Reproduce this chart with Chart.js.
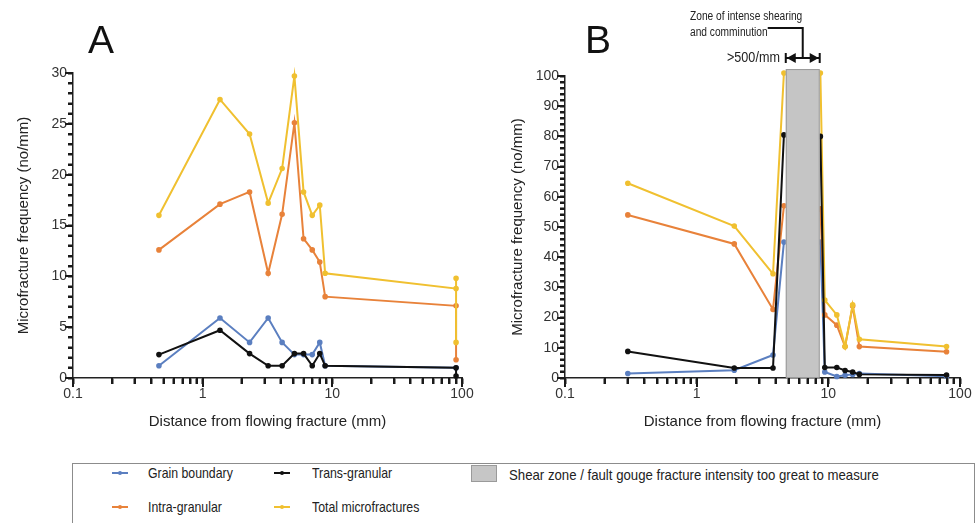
<!DOCTYPE html>
<html>
<head>
<meta charset="utf-8">
<script src="https://cdn.jsdelivr.net/npm/chart.js@4.4.0/dist/chart.umd.min.js"></script>
<style>
body{margin:0;background:#fff;font-family:"Liberation Sans",Arial,sans-serif;}
#wrap{position:relative;width:977px;height:523px;overflow:hidden;background:#fff;}
canvas{position:absolute;top:0;}
#chartA{left:0}
#chartB{left:490px}
.panel{position:absolute;font-size:39px;line-height:39px;color:#111;}
.note{position:absolute;font-size:12px;line-height:14px;color:#222;white-space:nowrap;transform:scaleX(0.85);transform-origin:left center;}
#legend{position:absolute;left:72px;top:463px;width:903px;height:80px;border:1.5px solid #8c8c8c;box-sizing:border-box;}
.item{position:absolute;font-size:15px;line-height:18px;color:#222;white-space:nowrap;transform:scaleX(0.82);transform-origin:left center;}
.mark{position:absolute;height:2px;width:16px;}
.mark span{position:absolute;left:6px;top:-1px;width:4px;height:4px;border-radius:50%;}
#gray{position:absolute;left:471px;top:465px;width:26px;height:17px;background:#c6c6c6;border:1px solid #9a9a9a;box-sizing:border-box;}
</style>
</head>
<body>
<div id="wrap">
<canvas id="chartA" width="490" height="445"></canvas>
<canvas id="chartB" width="487" height="445"></canvas>
<div class="panel" style="left:88px;top:20px">A</div>
<div class="panel" style="left:585px;top:20px">B</div>
<div class="note" style="left:690px;top:9px">Zone of intense shearing</div>
<div class="note" style="left:690px;top:25px">and comminution</div>
<div class="note" style="left:727px;top:50px;font-size:14px;transform:scaleX(0.9)">&gt;500/mm</div>
<div id="legend"></div>
<div class="mark" style="left:112px;top:472px;background:#5b7fc0"><span style="background:#5b7fc0"></span></div>
<div class="item" style="left:148px;top:464px">Grain boundary</div>
<div class="mark" style="left:112px;top:506px;background:#e8823a"><span style="background:#e8823a"></span></div>
<div class="item" style="left:148px;top:498px">Intra-granular</div>
<div class="mark" style="left:274px;top:472px;background:#111"><span style="background:#111"></span></div>
<div class="item" style="left:312px;top:464px">Trans-granular</div>
<div class="mark" style="left:274px;top:506px;background:#f0c030"><span style="background:#f0c030"></span></div>
<div class="item" style="left:312px;top:498px">Total microfractures</div>
<div id="gray"></div>
<div class="item" style="left:509px;top:466px;transform:scaleX(0.88)">Shear zone / fault gouge fracture intensity too great to measure</div>
</div>
<script>
var xTicks = [0.1,0.2,0.3,0.4,0.5,0.6,0.7,0.8,0.9,1,2,3,4,5,6,7,8,9,10,20,30,40,50,60,70,80,90,100];

// panel A
var distA = [0.46, 1.36, 2.3, 3.2, 4.1, 5.1, 6.0, 7.0, 8.0, 8.8, 90];
var grainA = [1.2, 5.9, 3.5, 5.9, 3.5, 2.3, 2.3, 2.3, 3.5, 1.2, 1.0];
var intraA = [12.6, 17.1, 18.3, 10.3, 16.1, 25.1, 13.7, 12.6, 11.4, 8.0, 7.1];
var transA = [2.3, 4.7, 2.4, 1.2, 1.2, 2.4, 2.4, 1.2, 2.4, 1.2, 1.0];
var totalA = [16.0, 27.4, 24.0, 17.2, 20.6, 29.7, 18.3, 16.0, 17.0, 10.3, 8.8];
// extra readings at the far end of A
var intraAEnd = [1.8];
var transAEnd = [0.2];
var totalAEnd = [9.8, 3.5];

// panel B
var distB = [0.3, 1.93, 3.8, 4.6, 8.7, 9.4, 11.6, 13.4, 15.3, 17.2, 79];
var grainB = [1.5, 2.6, 7.6, 45, 45, 2.0, 0.5, 0.9, 1.2, 1.5, 0.6];
var intraB = [54, 44.4, 22.7, 57, 56, 20.9, 17.5, 10.4, 23.8, 10.4, 8.7];
var transB = [8.8, 3.3, 3.3, 80.5, 80, 3.5, 3.5, 2.5, 2.0, 1.2, 1.0];
var totalB = [64.5, 50.3, 34.5, 101, 101, 25.8, 20.9, 10.4, 24.2, 12.8, 10.4];
var shearZone = [4.75, 8.6];

var blue = '#5b7fc0', orange = '#e8823a', black = '#111', yellow = '#f0c030';
Chart.defaults.font.family = '"Liberation Sans", Arial, sans-serif';

function pts(xs, ys, tail){
    let d = xs.map(function(x, i){ return {x: x, y: ys[i]}; });
    if (tail) tail.forEach(function(y){ d.push({x: xs[xs.length - 1], y: y}); });
    return d;
}

function line(label, data, color, order){
    return {label: label, data: data, borderColor: color, backgroundColor: color,
        borderWidth: 2, pointRadius: 1.8, pointHoverRadius: 0, order: order, clip: false};
}

function isDecade(v){
    let l = Math.log10(v);
    return Math.abs(l - Math.round(l)) < 1e-6;
}

// tick marks: short for minor values, long for labelled ones
var tickPlugin = {
    id: 'tickmarks',
    afterDraw: function(chart){
        let ctx = chart.ctx, sx = chart.scales.x, sy = chart.scales.y;
        let yMajor = sy.max > 50 ? 10 : 5;
        ctx.save();
        ctx.strokeStyle = '#1a1a1a';
        ctx.lineWidth = 2;
        ctx.beginPath();
        xTicks.forEach(function(v){
            let p = Math.round(sx.getPixelForValue(v));
            ctx.moveTo(p, sx.top);
            ctx.lineTo(p, sx.top + (isDecade(v) ? 9 : 6));
        });
        for (let v = 0; v <= sy.max; v += sy.options.ticks.stepSize) {
            let p = Math.round(sy.getPixelForValue(v));
            ctx.moveTo(sy.right, p);
            ctx.lineTo(sy.right - (v % yMajor === 0 ? 8 : 5), p);
        }
        ctx.stroke();
        ctx.restore();
    }
};

var shearPlugin = {
    id: 'shear',
    afterDatasetsDraw: function(chart){
        let ctx = chart.ctx, sx = chart.scales.x, sy = chart.scales.y;
        let x0 = sx.getPixelForValue(shearZone[0]), x1 = sx.getPixelForValue(shearZone[1]);
        let yTop = sy.getPixelForValue(102.3), yBot = sy.getPixelForValue(0) - 1;
        ctx.save();
        ctx.fillStyle = '#c5c5c5';
        ctx.strokeStyle = '#9a9a9a';
        ctx.lineWidth = 1;
        ctx.fillRect(x0, yTop, x1 - x0, yBot - yTop);
        ctx.strokeRect(x0 + 0.5, yTop + 0.5, x1 - x0 - 1, yBot - yTop);
        // bracket and double arrow above the box
        let ay = chart.chartArea.top - 18, mid = (x0 + x1) / 2;
        ctx.strokeStyle = '#111';
        ctx.fillStyle = '#111';
        ctx.lineWidth = 2;
        ctx.beginPath();
        ctx.moveTo(x0, ay); ctx.lineTo(x1, ay);
        ctx.moveTo(x0, ay - 5); ctx.lineTo(x0, ay + 5);
        ctx.moveTo(x1, ay - 5); ctx.lineTo(x1, ay + 5);
        ctx.moveTo(mid, ay); ctx.lineTo(mid, ay - 30); ctx.lineTo(mid - 35, ay - 30);
        ctx.stroke();
        ctx.beginPath();
        ctx.moveTo(x0 + 1, ay); ctx.lineTo(x0 + 10, ay - 5); ctx.lineTo(x0 + 10, ay + 5); ctx.closePath();
        ctx.moveTo(x1 - 1, ay); ctx.lineTo(x1 - 10, ay - 5); ctx.lineTo(x1 - 10, ay + 5); ctx.closePath();
        ctx.fill();
        ctx.restore();
    }
};

function makeChart(id, datasets, yMax, yStep, yMajor, pad, yWidth, plugins){
    return new Chart(document.getElementById(id), {
        type: 'line',
        data: {datasets: datasets},
        options: {
            responsive: false,
            animation: false,
            devicePixelRatio: 1,
            layout: {padding: pad},
            plugins: {legend: {display: false}, tooltip: {enabled: false}},
            scales: {
                x: {
                    type: 'logarithmic', min: 0.1, max: 100,
                    afterBuildTicks: function(s){ s.ticks = xTicks.map(function(v){ return {value: v}; }); },
                    afterFit: function(s){ s.height = 67; },
                    ticks: {autoSkip: false, maxRotation: 0, padding: 2, color: '#333', font: {size: 14},
                        callback: function(v){ return isDecade(v) ? String(v) : ''; }},
                    grid: {display: true, drawOnChartArea: false, drawTicks: true, tickLength: 6, tickWidth: 2, tickColor: '#1a1a1a', color: '#1a1a1a'},
                    border: {display: true, color: '#222', width: 1.5},
                    title: {display: true, text: 'Distance from flowing fracture (mm)', color: '#222', font: {size: 15}, padding: {top: 0, bottom: 14}}
                },
                y: {
                    min: 0, max: yMax,
                    afterFit: function(s){ s.width = yWidth; },
                    ticks: {stepSize: yStep, autoSkip: false, padding: 1, color: '#333', font: {size: 14},
                        callback: function(v){ return v % yMajor === 0 ? v : ''; }},
                    grid: {display: true, drawOnChartArea: false, drawTicks: true, tickLength: 5, tickWidth: 2, tickColor: '#1a1a1a', color: '#1a1a1a'},
                    border: {display: true, color: '#222', width: 1.5},
                    title: {display: true, text: 'Microfracture frequency (no/mm)', color: '#222', font: {size: 15}, padding: {top: 5, bottom: 0}}
                }
            }
        },
        plugins: plugins
    });
}

var chartA = makeChart('chartA', [
    line('Trans-granular', pts(distA, transA, transAEnd), black, 0),
    line('Total microfractures', pts(distA, totalA, totalAEnd), yellow, 1),
    line('Intra-granular', pts(distA, intraA, intraAEnd), orange, 2),
    line('Grain boundary', pts(distA, grainA), blue, 3)
], 30, 1, 5, {left: 10, right: 28, top: 73, bottom: 0}, 63, [tickPlugin]);

var chartB = makeChart('chartB', [
    line('Trans-granular', pts(distB, transB), black, 0),
    line('Total microfractures', pts(distB, totalB), yellow, 1),
    line('Intra-granular', pts(distB, intraB), orange, 2),
    line('Grain boundary', pts(distB, grainB), blue, 3)
], 100, 2, 10, {left: 14, right: 17, top: 76, bottom: 0}, 61, [shearPlugin, tickPlugin]);
</script>
</body>
</html>
